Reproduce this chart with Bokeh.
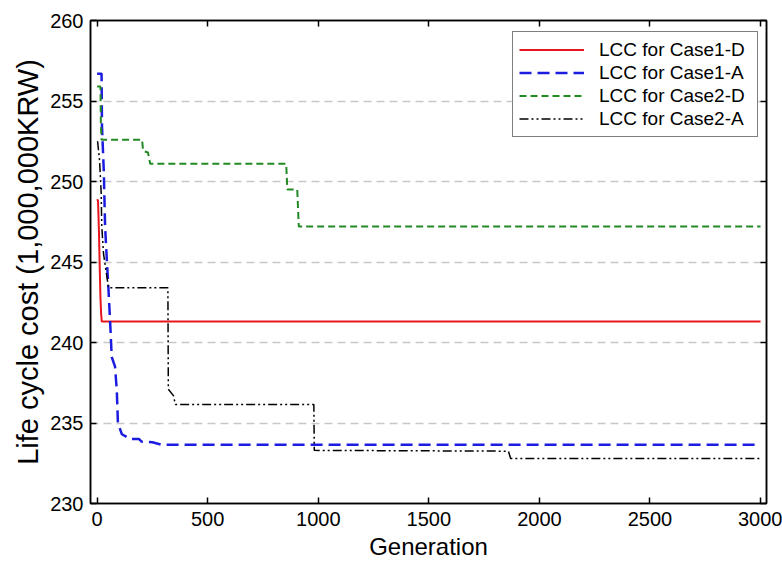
from bokeh.plotting import figure
from bokeh.models import (LinearAxis, FixedTicker, Range1d, Legend, LegendItem,
                          CustomLabelingPolicy)
from bokeh.embed import file_html
from bokeh.resources import INLINE

# ---- data ----
case1d_gen = [0, 4, 8, 12, 15, 18, 21, 3000]
case1d_lcc = [248.9, 248.8, 247.0, 244.5, 242.8, 241.8, 241.3, 241.3]

case1a_gen = [0, 20, 22, 30, 36, 44, 51, 59, 66, 81, 89, 94, 112, 150, 190, 200, 250, 290, 3000]
case1a_lcc = [256.7, 256.7, 253.4, 250.7, 247.2, 245.1, 243.4, 241.2, 239.1, 238.5, 237.0,
              235.0, 234.3, 234.0, 234.0, 233.85, 233.8, 233.65, 233.65]

case2d_gen = [0, 15, 17, 20, 203, 208, 230, 240, 855, 860, 905, 912, 3000]
case2d_lcc = [255.9, 255.9, 253.5, 252.6, 252.6, 251.9, 251.8, 251.1, 251.1, 249.5, 249.5,
              247.2, 247.2]

case2a_gen = [2, 11, 18, 21, 29, 44, 51, 320, 322, 345, 354, 980, 982, 1860, 1870, 3000]
case2a_lcc = [252.5, 251.3, 249.4, 247.2, 245.5, 244.1, 243.4, 243.4, 237.1, 236.7, 236.15,
              236.15, 233.3, 233.25, 232.8, 232.8]

x_ticks = [0, 500, 1000, 1500, 2000, 2500, 3000]
y_ticks = [230, 235, 240, 245, 250, 255, 260]

series_names = ["LCC for Case1-D", "LCC for Case1-A", "LCC for Case2-D", "LCC for Case2-A"]

FONT = "Liberation Sans"

p = figure(frame_width=676, frame_height=483,
           x_range=Range1d(-30, 3027), y_range=Range1d(230, 260),
           output_backend="svg", toolbar_location=None,
           min_border_left=90, min_border_right=16, min_border_top=20, min_border_bottom=70,
           background_fill_color="white", border_fill_color="white")

p.xgrid.visible = False
p.ygrid.ticker = FixedTicker(ticks=y_ticks)
p.ygrid.grid_line_color = "#c8c8c8"
p.ygrid.grid_line_dash = "8 5"
p.ygrid.grid_line_width = 1.5

p.outline_line_color = "black"
p.outline_line_width = 1.5

def style_axis(ax, ticks, show_labels=True):
    ax.ticker = FixedTicker(ticks=ticks)
    ax.axis_line_color = "black"
    ax.axis_line_width = 1.5
    ax.major_tick_in = 6
    ax.major_tick_out = 0
    ax.major_tick_line_color = "black"
    ax.major_tick_line_width = 1.5
    ax.minor_tick_line_color = None
    ax.major_label_text_font = FONT
    ax.major_label_text_color = "black"
    if show_labels:
        ax.major_label_text_font_size = "20px"
    else:
        ax.major_label_text_font_size = "0px"
        ax.major_label_standoff = 0
        ax.major_label_policy = CustomLabelingPolicy(code="return []")

style_axis(p.xaxis[0], x_ticks)
style_axis(p.yaxis[0], y_ticks)
p.xaxis[0].major_label_standoff = 8
p.yaxis[0].major_label_standoff = 7
p.xaxis[0].axis_label = "Generation"
p.yaxis[0].axis_label = "Life cycle cost (1,000,000KRW)"
for ax in (p.xaxis[0], p.yaxis[0]):
    ax.axis_label_text_font = FONT
    ax.axis_label_text_font_style = "normal"
    ax.axis_label_text_color = "black"
p.xaxis[0].axis_label_text_font_size = "24px"
p.yaxis[0].axis_label_text_font_size = "29px"
p.xaxis[0].axis_label_standoff = 4
p.yaxis[0].axis_label_standoff = 3

top_ax = LinearAxis()
style_axis(top_ax, x_ticks, show_labels=False)
p.add_layout(top_ax, "above")
right_ax = LinearAxis()
style_axis(right_ax, y_ticks, show_labels=False)
p.add_layout(right_ax, "right")

r1 = p.line(case1d_gen, case1d_lcc, line_color="#e8161c", line_width=2)
r2 = p.line(case1a_gen, case1a_lcc, line_color="#1c1ce0", line_width=2.5, line_dash="12 6")
r3 = p.line(case2d_gen, case2d_lcc, line_color="#228a22", line_width=2, line_dash="7 4")
r4 = p.line(case2a_gen, case2a_lcc, line_color="black", line_width=1.5, line_dash="9 3 2 3 2 3")

legend = Legend(items=[LegendItem(label=n, renderers=[r]) for n, r in
                       zip(series_names, [r1, r2, r3, r4])],
                location=(422, 366))
legend.label_text_font = FONT
legend.label_text_font_size = "19px"
legend.label_text_color = "black"
legend.glyph_width = 65
legend.glyph_height = 23
legend.label_height = 23
legend.label_width = 152
legend.label_standoff = 15
legend.spacing = 0
legend.padding = 6
legend.margin = 0
legend.border_line_color = "black"
legend.border_line_width = 1.2
legend.background_fill_color = "white"
legend.background_fill_alpha = 1.0
p.add_layout(legend, "center")

open("out.html", "w").write(file_html(p, INLINE))
